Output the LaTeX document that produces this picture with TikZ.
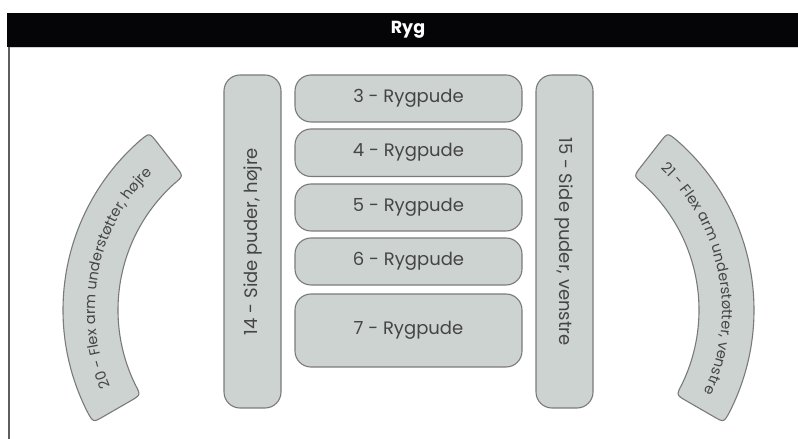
\documentclass[tikz,border=0pt]{standalone}
\usepackage{fontspec}
\setmainfont{Poppins}
\usetikzlibrary{decorations.text}
\definecolor{padfill}{HTML}{CDD3D1}
\definecolor{padline}{HTML}{7A7A7A}
\definecolor{txt}{HTML}{454545}
\definecolor{barblack}{HTML}{050508}
\definecolor{framegray}{HTML}{5E5E5E}
\newcommand\arcfont{\fontsize{14.5}{14.5}\selectfont}
\begin{document}
\begin{tikzpicture}[x=1pt,y=1pt,
  pad/.style={draw=padline, fill=padfill, line width=1.1pt, rounded corners=16pt,
    inner sep=0pt, text=txt, font=\fontsize{18}{18}\selectfont},
  arcpad/.style={draw=padline, fill=padfill, line width=1.1pt},
  arctext/.style={decorate, decoration={text along path, text align=center, text color=txt}}]
\useasboundingbox (0,0) rectangle (798,439);
% header
\fill[barblack] (7,392) rectangle (812,426);
\draw[black!18, line width=1pt] (9,391.5) -- (812,391.5);
\draw[framegray, line width=1.8pt] (9,392) -- (9,-5);
\node[font=\bfseries\fontsize{17.5}{17.5}\selectfont, text=white] (title) at (408,409) {Ryg};
% side pads
\node[pad, rotate=90, minimum width=333pt, minimum height=57pt] (p14) at (252.5,197.5) {14 - Side puder, højre};
\node[pad, rotate=-90, minimum width=333pt, minimum height=57pt] (p15) at (564.5,197.5) {15 - Side puder, venstre};
% back pads
\node[pad, minimum width=227pt, minimum height=47pt] (p3) at (408.5,340.5) {3 - Rygpude};
\node[pad, minimum width=227pt, minimum height=47.5pt] (p4) at (408.5,286.25) {4 - Rygpude};
\node[pad, minimum width=227pt, minimum height=47pt] (p5) at (408.5,231.5) {5 - Rygpude};
\node[pad, minimum width=227pt, minimum height=47pt] (p6) at (408.5,177.5) {6 - Rygpude};
\node[pad, minimum width=227pt, minimum height=73pt] (p7) at (408.5,108.5) {7 - Rygpude};
% left flex arm
\begin{scope}[shift={(288,129)}]
\filldraw[arcpad] (131.06:225pt) arc[start angle=131.06, end angle=206.94, radius=225pt]
  .. controls (210:225pt) .. (210:213pt)
  -- (210:182pt) .. controls (210:170pt) .. (205.96:170pt)
  arc[start angle=205.96, end angle=132.04, radius=170pt]
  .. controls (128:170pt) .. (128:182pt)
  -- (128:213pt) .. controls (128:225pt) .. (131.06:225pt) -- cycle;
\path[arctext, decoration={text={|\arcfont|20 - Flex arm understøtter, højre}}]
  (210:193pt) arc[start angle=210, end angle=128, radius=193pt];
\end{scope}
% right flex arm
\begin{scope}[shift={(529,129)}]
\filldraw[arcpad] (48.94:225pt) arc[start angle=48.94, end angle=-26.94, radius=225pt]
  .. controls (-30:225pt) .. (-30:213pt)
  -- (-30:182pt) .. controls (-30:170pt) .. (-25.96:170pt)
  arc[start angle=-25.96, end angle=47.96, radius=170pt]
  .. controls (52:170pt) .. (52:182pt)
  -- (52:213pt) .. controls (52:225pt) .. (48.94:225pt) -- cycle;
\path[arctext, decoration={text={|\arcfont|21 - Flex arm understøtter, venstre}}]
  (52:193pt) arc[start angle=52, end angle=-30, radius=193pt];
\end{scope}
\end{tikzpicture}
\end{document}
